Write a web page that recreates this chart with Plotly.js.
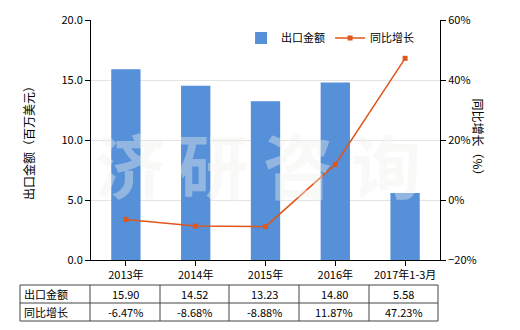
<!DOCTYPE html>
<html><head><meta charset="utf-8">
<script src="https://cdn.plot.ly/plotly-3.0.1.min.js"></script>
<style>body{margin:0;background:#fff}#c{width:520px;height:330px}</style>
</head><body><div id="c"></div>
<script>
const categories = ["2013年","2014年","2015年","2016年","2017年1-3月"];
const exportValues = [15.90,14.52,13.23,14.80,5.58];
const growthValues = [-6.47,-8.68,-8.88,11.87,47.23];
const seriesNames = ["出口金额","同比增长"];
const exportLabels = ["15.90","14.52","13.23","14.80","5.58"];
const growthLabels = ["-6.47%","-8.68%","-8.88%","11.87%","47.23%"];
const watermarkChars = ["济","研","咨","询"];

const F = '"Noto Sans CJK SC", "Microsoft YaHei", sans-serif';
const traces = [
 {type:'bar', x:categories, y:exportValues, name:seriesNames[0], marker:{color:'#5590D9'}, width:0.42, yaxis:'y'},
 {type:'scatter', mode:'lines+markers', x:categories, y:growthValues, name:seriesNames[1], yaxis:'y2',
  line:{color:'#E0561B', width:1.5}, marker:{color:'#E0561B', size:5, symbol:'square'}}
];
const px = v => (v-91)/349, py = v => (260-v)/240;
const colEdges = [20,90,160,229,299,369,438];
const rowEdges = [285,303,321];
const shapes = [];
colEdges.forEach(x=>shapes.push({type:'line',xref:'paper',yref:'paper',x0:px(x),x1:px(x),y0:py(rowEdges[0]),y1:py(rowEdges[2]),line:{color:'#444',width:1}}));
rowEdges.forEach(y=>shapes.push({type:'line',xref:'paper',yref:'paper',x0:px(colEdges[0]),x1:px(colEdges[6]),y0:py(y),y1:py(y),line:{color:'#444',width:1}}));
const annotations = [];
const rows = [exportLabels, growthLabels];
rows.forEach((r,ri)=>{
  const yc = (rowEdges[ri]+rowEdges[ri+1])/2;
  annotations.push({xref:'paper',yref:'paper',x:px(colEdges[0]+2),y:py(yc),text:seriesNames[ri],showarrow:false,xanchor:'left',yanchor:'middle',font:{family:F,size:11,color:'#000'}});
  r.forEach((t,ci)=>{
    const xc=(colEdges[ci+1]+colEdges[ci+2])/2;
    annotations.push({xref:'paper',yref:'paper',x:px(xc),y:py(yc),text:t,showarrow:false,xanchor:'center',yanchor:'middle',font:{family:F,size:11,color:'#000'}});
  });
});
annotations.push({xref:'paper',yref:'paper',x:px(489),y:py(140),text:'同比增长（%）',textangle:90,showarrow:false,font:{family:F,size:12,color:'#000'}});
const wmX = [130,213,298,386];
watermarkChars.forEach((ch,i)=>annotations.push({xref:'paper',yref:'paper',x:px(wmX[i]),y:py(163),text:'<b>'+ch+'</b>',showarrow:false,xanchor:'center',yanchor:'middle',font:{family:F,size:70,color:'rgba(240,240,235,0.4)'}}));

const layout = {
 width:520,height:330,margin:{l:91,r:80,t:20,b:70},
 paper_bgcolor:'#fff',plot_bgcolor:'#fff',
 font:{family:F,size:11,color:'#000'},
 xaxis:{type:'category',showline:true,linecolor:'#000',ticks:'outside',ticklen:5,tickcolor:'#000',tickfont:{size:11},showgrid:false},
 yaxis:{range:[0,20],dtick:5,tickformat:'.1f',showline:true,linecolor:'#000',ticks:'outside',ticklen:5,tickcolor:'#000',
   gridcolor:'#e4e4e4',zeroline:false,title:{text:'出口金额（百万美元）',font:{size:12},standoff:24}},
 yaxis2:{overlaying:'y',side:'right',range:[-20,60],dtick:20,ticksuffix:'%',showline:true,linecolor:'#000',ticks:'outside',ticklen:5,tickcolor:'#000',showgrid:false,zeroline:false},
 legend:{orientation:'h',x:0.43,y:0.925,yanchor:'middle',xanchor:'left',font:{size:11},bgcolor:'rgba(0,0,0,0)'},
 shapes:shapes,annotations:annotations
};
Plotly.newPlot('c',traces,layout,{displayModeBar:false,staticPlot:true});
</script></body></html>
